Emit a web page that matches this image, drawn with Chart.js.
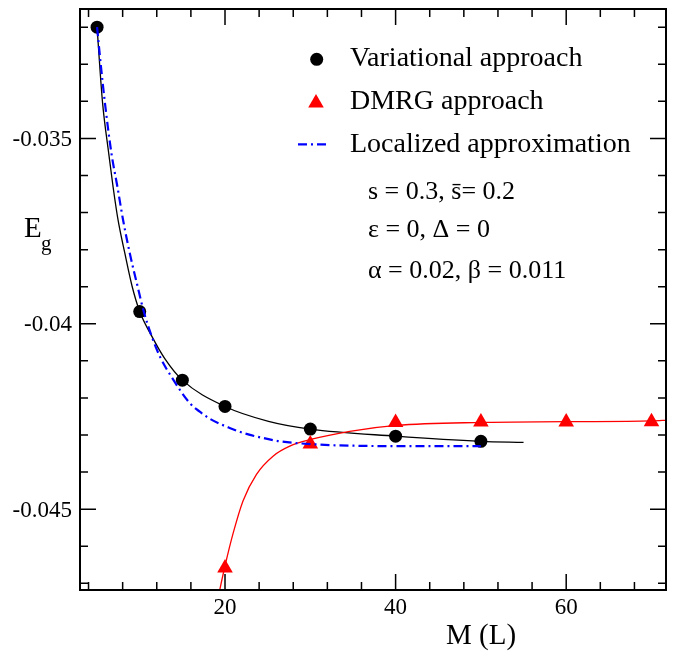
<!DOCTYPE html>
<html>
<head>
<meta charset="utf-8">
<script src="https://cdn.jsdelivr.net/npm/chart.js@4.4.1/dist/chart.umd.min.js"></script>
<style>
  html, body { margin:0; padding:0; background:#fff; }
</style>
</head>
<body>
<canvas id="chart" width="682" height="651"></canvas>
<script>
// ================= DATA =================
const variationalX = [5, 10, 15, 20, 30, 40, 50];
const variationalY = [-0.0320, -0.03967, -0.04152, -0.04223, -0.04284, -0.04303, -0.04317];

const dmrgX = [20, 30, 40, 50, 60, 70];
const dmrgY = [-0.04659, -0.04324, -0.04266, -0.04265, -0.04265, -0.04264];

// fitted curves, points
const variationalFitX = [5, 5.63, 6.37, 6.88, 7.46, 8.25, 9.1, 10, 11.38, 12.94, 15, 20, 25.1, 30, 40, 50, 55];
const variationalFitY = [-0.0320, -0.0340, -0.03541, -0.03631, -0.0372, -0.03809, -0.03898, -0.03967, -0.04032, -0.04094, -0.04152, -0.04223, -0.04263, -0.04284, -0.04303, -0.04317, -0.0432];

const dmrgFitX = [19.0, 19.38, 19.97, 20.94, 22.12, 23.69, 25.63, 27.59, 30.05, 34.62, 40.1, 50, 60, 70, 72];
const dmrgFitY = [-0.0476, -0.04718, -0.04656, -0.04566, -0.04477, -0.04406, -0.04357, -0.0433, -0.04312, -0.0429, -0.04274, -0.04266, -0.04264, -0.04262, -0.0426];

const localizedX = [5, 5.43, 5.9, 6.69, 7.39, 8.05, 8.83, 9.74, 10.5, 11.38, 12.4, 13.72, 15.87, 17.04, 18.21, 20.55, 22.51, 24.46, 26.42, 31.1, 33.45, 40, 50];
const localizedY = [-0.0320, -0.0330, -0.0340, -0.03541, -0.03631, -0.0372, -0.03809, -0.03898, -0.03969, -0.04032, -0.0409, -0.04143, -0.04214, -0.04237, -0.04256, -0.04281, -0.04297, -0.04308, -0.04317, -0.04326, -0.04328, -0.0433, -0.0433];

// axes
const xMin = 3, xMax = 71.7;
const yMin = -0.04718, yMax = -0.03151;
const xTickMajor = [20, 40, 60];
const xTickLabels = ["20", "40", "60"];
const xTickMinor = [4, 8, 12, 16, 24, 28, 32, 36, 44, 48, 52, 56, 64, 68];
const yTickMajor = [-0.035, -0.04, -0.045];
const yTickLabels = ["-0.035", "-0.04", "-0.045"];
const yTickMinor = [-0.032, -0.033, -0.034, -0.036, -0.037, -0.038, -0.039, -0.041, -0.042, -0.043, -0.044, -0.046, -0.047];

const legendLabels = ["Variational approach", "DMRG approach", "Localized approximation"];
const paramLines = ["s = 0.3, s\u0304= 0.2", "\u03b5 = 0, \u0394 = 0", "\u03b1 = 0.02, \u03b2 = 0.011"];

const RED = "#ff0000", BLUE = "#0000ff", BLACK = "#000000";
const FONT = "'Liberation Serif', 'Times New Roman', serif";
const DASH = [9, 4, 2, 4];
const TRI_R = 9, DOT_R = 6.5;

const pts = (xs, ys) => xs.map((v, i) => ({ x: v, y: ys[i] }));

// ================= FRAME, TICKS, TEXT =================
const decor = {
  id: "decor",
  afterDatasetsDraw(chart) {
    const { ctx, chartArea: a, scales: { x, y } } = chart;
    ctx.save();
    ctx.strokeStyle = BLACK;
    ctx.lineWidth = 1.5;

    // ticks on all four sides, pointing inward
    const xTick = (v, len) => {
      const px = x.getPixelForValue(v);
      ctx.beginPath();
      ctx.moveTo(px, a.bottom); ctx.lineTo(px, a.bottom - len);
      ctx.moveTo(px, a.top); ctx.lineTo(px, a.top + len);
      ctx.stroke();
    };
    const yTick = (v, len) => {
      const py = y.getPixelForValue(v);
      ctx.beginPath();
      ctx.moveTo(a.left, py); ctx.lineTo(a.left + len, py);
      ctx.moveTo(a.right, py); ctx.lineTo(a.right - len, py);
      ctx.stroke();
    };
    xTickMinor.forEach(v => xTick(v, 8));
    xTickMajor.forEach(v => xTick(v, 16));
    yTickMinor.forEach(v => yTick(v, 8));
    yTickMajor.forEach(v => yTick(v, 16));

    // frame
    ctx.lineWidth = 2;
    ctx.strokeRect(a.left, a.top, a.right - a.left, a.bottom - a.top);

    // tick labels
    ctx.fillStyle = BLACK;
    ctx.font = "23px " + FONT;
    ctx.textAlign = "right";
    ctx.textBaseline = "middle";
    yTickMajor.forEach((v, i) => ctx.fillText(yTickLabels[i], 72, y.getPixelForValue(v) + 1.5));
    ctx.textAlign = "center";
    ctx.textBaseline = "alphabetic";
    xTickMajor.forEach((v, i) => ctx.fillText(xTickLabels[i], x.getPixelForValue(v), 614));

    // axis titles
    ctx.font = "29px " + FONT;
    ctx.fillText("M (L)", 481, 644);
    ctx.textAlign = "left";
    ctx.fillText("E", 24, 237);
    ctx.font = "21px " + FONT;
    ctx.fillText("g", 41, 250);

    // legend
    ctx.fillStyle = BLACK;
    ctx.beginPath();
    ctx.arc(316.7, 59.3, DOT_R, 0, Math.PI * 2);
    ctx.fill();
    ctx.fillStyle = RED;
    Chart.helpers.drawPoint(ctx, { pointStyle: "triangle", radius: TRI_R, borderWidth: 0 }, 316, 103);
    ctx.strokeStyle = BLUE;
    ctx.lineWidth = 2.2;
    ctx.setLineDash(DASH);
    ctx.beginPath();
    ctx.moveTo(298, 144.3); ctx.lineTo(330, 144.3);
    ctx.stroke();
    ctx.setLineDash([]);

    ctx.fillStyle = BLACK;
    ctx.font = "28px " + FONT;
    [66, 109, 151.7].forEach((by, i) => ctx.fillText(legendLabels[i], 350, by));
    ctx.font = "26px " + FONT;
    [199.3, 236.7, 278.3].forEach((by, i) => ctx.fillText(paramLines[i], 368, by));
    ctx.restore();
  }
};

// ================= CHART =================
new Chart(document.getElementById("chart"), {
  type: "scatter",
  data: {
    datasets: [
      {
        label: legendLabels[2],
        data: pts(localizedX, localizedY),
        showLine: true, borderColor: BLUE, borderWidth: 2.2, borderDash: DASH,
        pointRadius: 0, cubicInterpolationMode: "monotone"
      },
      {
        label: legendLabels[1],
        data: pts(dmrgX, dmrgY),
        pointStyle: "triangle", pointRadius: TRI_R, backgroundColor: RED, borderWidth: 0
      },
      {
        label: legendLabels[0],
        data: pts(variationalX, variationalY),
        pointStyle: "circle", pointRadius: DOT_R, backgroundColor: BLACK, borderWidth: 0
      },
      {
        label: "DMRG fit",
        data: pts(dmrgFitX, dmrgFitY),
        showLine: true, borderColor: RED, borderWidth: 1.3,
        pointRadius: 0, cubicInterpolationMode: "monotone"
      },
      {
        label: "Variational fit",
        data: pts(variationalFitX, variationalFitY),
        showLine: true, borderColor: BLACK, borderWidth: 1.3,
        pointRadius: 0, cubicInterpolationMode: "monotone"
      }
    ]
  },
  options: {
    responsive: false,
    animation: false,
    devicePixelRatio: 1,
    layout: { padding: { left: 80, right: 16, top: 4, bottom: 61 } },
    plugins: { legend: { display: false }, tooltip: { enabled: false } },
    scales: {
      x: { type: "linear", min: xMin, max: xMax, display: false },
      y: { type: "linear", min: yMin, max: yMax, display: false }
    }
  },
  plugins: [decor]
});
</script>
</body>
</html>
